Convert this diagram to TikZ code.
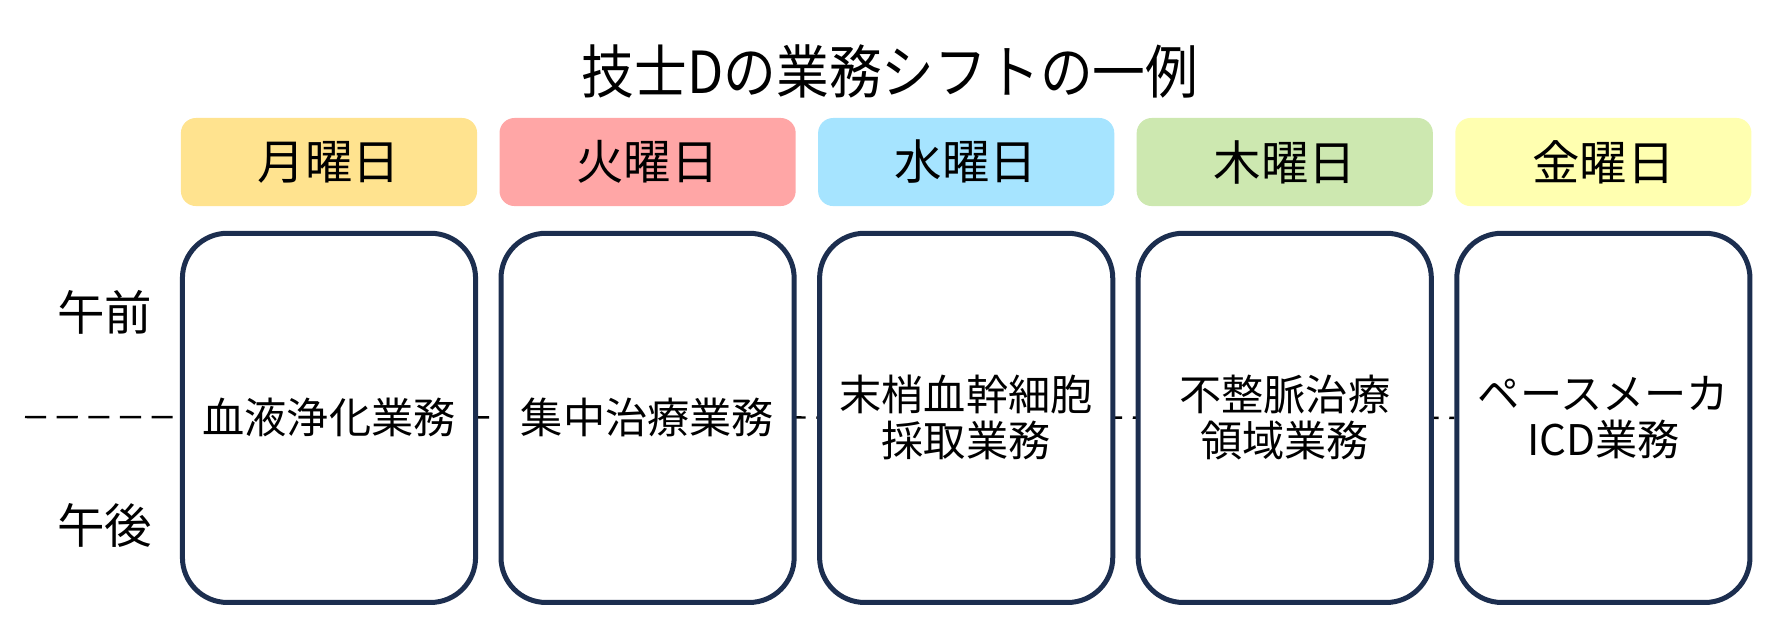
\documentclass[tikz,border=0pt]{standalone}
\usepackage{graphicx}
\usepackage{fontspec}
\setmainfont{Noto Sans CJK JP}
\usepackage{tikz}
\usetikzlibrary{positioning,backgrounds}

\definecolor{monfill}{HTML}{FFE38F}
\definecolor{tuefill}{HTML}{FFA6A6}
\definecolor{wedfill}{HTML}{A6E4FF}
\definecolor{thufill}{HTML}{CDE8B0}
\definecolor{frifill}{HTML}{FFFFB0}
\definecolor{boxnavy}{HTML}{1C2E4F}

\begin{document}
\begin{tikzpicture}[x=0.01cm, y=-0.01cm, node distance=0.21cm,
  dayhead/.style={rectangle, rounded corners=0.15cm, minimum width=2.96cm, minimum height=0.88cm, inner sep=0pt, font=\fontsize{13.5}{15}\selectfont},
  jobbox/.style={rectangle, draw=boxnavy, line width=0.05cm, fill=white, rounded corners=0.45cm, minimum width=2.93cm, minimum height=3.69cm, inner sep=0pt, align=center, font=\fontsize{12}{13.1}\selectfont},
  halfday/.style={font=\fontsize{13.5}{15}\selectfont}]
  \useasboundingbox (0,0) rectangle (1772,620);

  \node (title) at (890,71) {\fontsize{15}{17}\selectfont\scalebox{1}[1.1]{技士Dの業務シフトの一例}};

  \node (mon) [dayhead, fill=monfill] at (329,162) {月曜日};
  \node (tue) [dayhead, fill=tuefill, right=of mon] {火曜日};
  \node (wed) [dayhead, fill=wedfill, right=of tue] {水曜日};
  \node (thu) [dayhead, fill=thufill, right=of wed] {木曜日};
  \node (fri) [dayhead, fill=frifill, right=of thu] {金曜日};

  \node (monjob) [jobbox, below=0.24cm of mon] {血液浄化業務};
  \node (tuejob) [jobbox, below=0.24cm of tue] {集中治療業務};
  \node (wedjob) [jobbox, below=0.24cm of wed] {末梢血幹細胞\\採取業務};
  \node (thujob) [jobbox, below=0.24cm of thu] {不整脈治療\\領域業務};
  \node (frijob) [jobbox, below=0.24cm of fri] {ペースメーカ\\ICD業務};

  \node (am) [halfday] at (105,312) {午前};
  \node (pm) [halfday] at (105,525) {午後};

  \coordinate (noon) at (25,417);
  \begin{scope}[on background layer]
    \draw[line width=0.7pt, dash pattern=on 6pt off 3pt] (noon) -- (frijob.west);
  \end{scope}
\end{tikzpicture}
\end{document}
